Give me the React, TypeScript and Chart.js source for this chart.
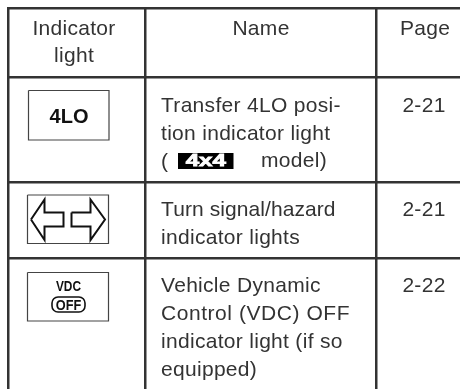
import React, { useEffect, useRef } from "react";
import { Chart, registerables } from "chart.js";

Chart.register(...registerables);

// Table text
const headerIndicator = ["Indicator", "light"];
const headerName = "Name";
const headerPage = "Page";
const rowNames = [
  ["Transfer 4LO posi-", "tion indicator light", "("],
  ["Turn signal/hazard", "indicator lights"],
  ["Vehicle Dynamic", "Control (VDC) OFF", "indicator light (if so", "equipped)"],
];
const rowPages = ["2-21", "2-21", "2-22"];
const modelWord = "model)";
const badgeText = "4x4";
const icon4LO = "4LO";
const iconVDC = "VDC";
const iconOFF = "OFF";

// Table grid
const columnEdges = [8.5, 145.5, 376];
const rowEdges = [8.5, 77, 182, 258];
const rowFirstBaselines = [111.5, 215.7, 292];
const lineStep = 28;
const lineTracking: Record<string, string> = {
  "Turn signal/hazard": "0.08px",
  "Control (VDC) OFF": "0.55px",
};

// Icon outlines
const box4LO = [[28.5, 90.5], [109, 90.5], [109, 140], [28.5, 140], [28.5, 90.5]];
const boxArrows = [[27.5, 195], [108.5, 195], [108.5, 243.5], [27.5, 243.5], [27.5, 195]];
const boxVDC = [[27.5, 272.5], [108.5, 272.5], [108.5, 321], [27.5, 321], [27.5, 272.5]];
const arrowLeft = [[31, 219.5], [44.5, 199.5], [44.5, 212.5], [63.5, 212.5], [63.5, 226.5], [44.5, 226.5], [44.5, 240], [31, 219.5]];
const arrowRight = [[71.5, 212.5], [90.5, 212.5], [90.5, 199.5], [105, 219.5], [90.5, 240], [90.5, 226.5], [71.5, 226.5], [71.5, 212.5]];

const INK = "#333333";
const BODY_FONT = "21px 'Liberation Sans'";
const BODY_TRACKING = "0.3px";

const toPoints = (pts: number[][]) => pts.map(([x, y]) => ({ x, y }));
const outline = (pts: number[][], width: number, color: string) => ({
  data: toPoints(pts),
  showLine: true,
  borderColor: color,
  borderWidth: width,
  pointRadius: 0,
  tension: 0,
  fill: false,
});

const tablePlugin = {
  id: "tableText",
  afterDatasetsDraw(chart: any) {
    const { ctx, scales } = chart;
    const X = (v: number) => scales.x.getPixelForValue(v);
    const Y = (v: number) => scales.y.getPixelForValue(v);
    const put = (t: string, x: number, y: number, align: CanvasTextAlign = "left") => {
      ctx.textAlign = align;
      ctx.fillText(t, X(x), Y(y));
    };
    const squeezed = (t: string, x: number, y: number, sx: number) => {
      ctx.save();
      ctx.translate(X(x), Y(y));
      ctx.scale(sx, 1);
      ctx.textAlign = "center";
      ctx.fillText(t, 0, 0);
      ctx.restore();
    };
    ctx.save();
    ctx.textBaseline = "alphabetic";
    ctx.fillStyle = INK;
    ctx.font = BODY_FONT;
    ctx.letterSpacing = BODY_TRACKING;
    put(headerIndicator[0], 74, 35, "center");
    put(headerIndicator[1], 74, 62, "center");
    put(headerName, 261, 35, "center");
    put(headerPage, 425, 35, "center");
    rowNames.forEach((lines, r) => {
      lines.forEach((l, i) => {
        ctx.letterSpacing = lineTracking[l] ?? BODY_TRACKING;
        put(l, 161, rowFirstBaselines[r] + i * lineStep);
      });
      ctx.letterSpacing = BODY_TRACKING;
      put(rowPages[r], 424, rowFirstBaselines[r], "center");
    });
    put(modelWord, 261, rowFirstBaselines[0] + 2 * lineStep - 1);

    // icon text
    ctx.letterSpacing = "0px";
    ctx.fillStyle = "#111111";
    ctx.font = "bold 20px 'Liberation Sans'";
    put(icon4LO, 69, 122.5, "center");
    ctx.font = "bold 14px 'Liberation Sans'";
    squeezed(iconVDC, 68.5, 291, 0.85);
    ctx.font = "bold 15px 'Liberation Sans'";
    squeezed(iconOFF, 68.5, 310, 0.85);
    ctx.strokeStyle = "#111111";
    ctx.lineWidth = 1.6;
    ctx.beginPath();
    ctx.roundRect(X(52), Y(297), X(85) - X(52), Y(312) - Y(297), 6);
    ctx.stroke();

    // 4x4 badge
    ctx.fillStyle = "#000000";
    ctx.fillRect(X(178), Y(153), X(233.5) - X(178), Y(169) - Y(153));
    ctx.save();
    ctx.translate(X(205.8), Y(166));
    ctx.scale(1.42, 1);
    ctx.font = "bold 17px 'Liberation Sans'";
    ctx.fillStyle = "#ffffff";
    ctx.strokeStyle = "#ffffff";
    ctx.lineWidth = 0.8;
    ctx.textAlign = "center";
    ctx.fillText(badgeText, 0, 0);
    ctx.strokeText(badgeText, 0, 0);
    ctx.restore();
    ctx.restore();
  },
};

export default function App() {
  const ref = useRef<HTMLCanvasElement>(null);
  useEffect(() => {
    const chart = new Chart(ref.current as HTMLCanvasElement, {
      type: "scatter",
      data: {
        datasets: [
          outline(box4LO, 1.2, "#444444"),
          outline(boxArrows, 1.2, "#444444"),
          outline(boxVDC, 1.2, "#444444"),
          outline(arrowLeft, 2, "#111111"),
          outline(arrowRight, 2, "#111111"),
        ],
      } as any,
      options: {
        animation: false,
        responsive: false,
        layout: { padding: { left: 7, top: 7, right: 0, bottom: 0 } },
        plugins: { legend: { display: false }, title: { display: false }, tooltip: { enabled: false } },
        scales: {
          x: {
            type: "linear",
            min: 7,
            max: 460,
            afterBuildTicks: (s: any) => { s.ticks = columnEdges.map((value) => ({ value })); },
            ticks: { display: false },
            border: { display: false },
            grid: { color: INK, lineWidth: 2.5, drawTicks: false },
          },
          y: {
            type: "linear",
            reverse: true,
            min: 7,
            max: 389,
            afterBuildTicks: (s: any) => { s.ticks = rowEdges.map((value) => ({ value })); },
            ticks: { display: false },
            border: { display: false },
            grid: { color: INK, lineWidth: 2.5, drawTicks: false },
          },
        },
      },
      plugins: [tablePlugin],
    } as any);
    return () => chart.destroy();
  }, []);
  return (
    <canvas
      ref={ref}
      width={460}
      height={389}
      style={{ position: "absolute", left: 0, top: 0, width: 460, height: 389, display: "block" }}
    />
  );
}
